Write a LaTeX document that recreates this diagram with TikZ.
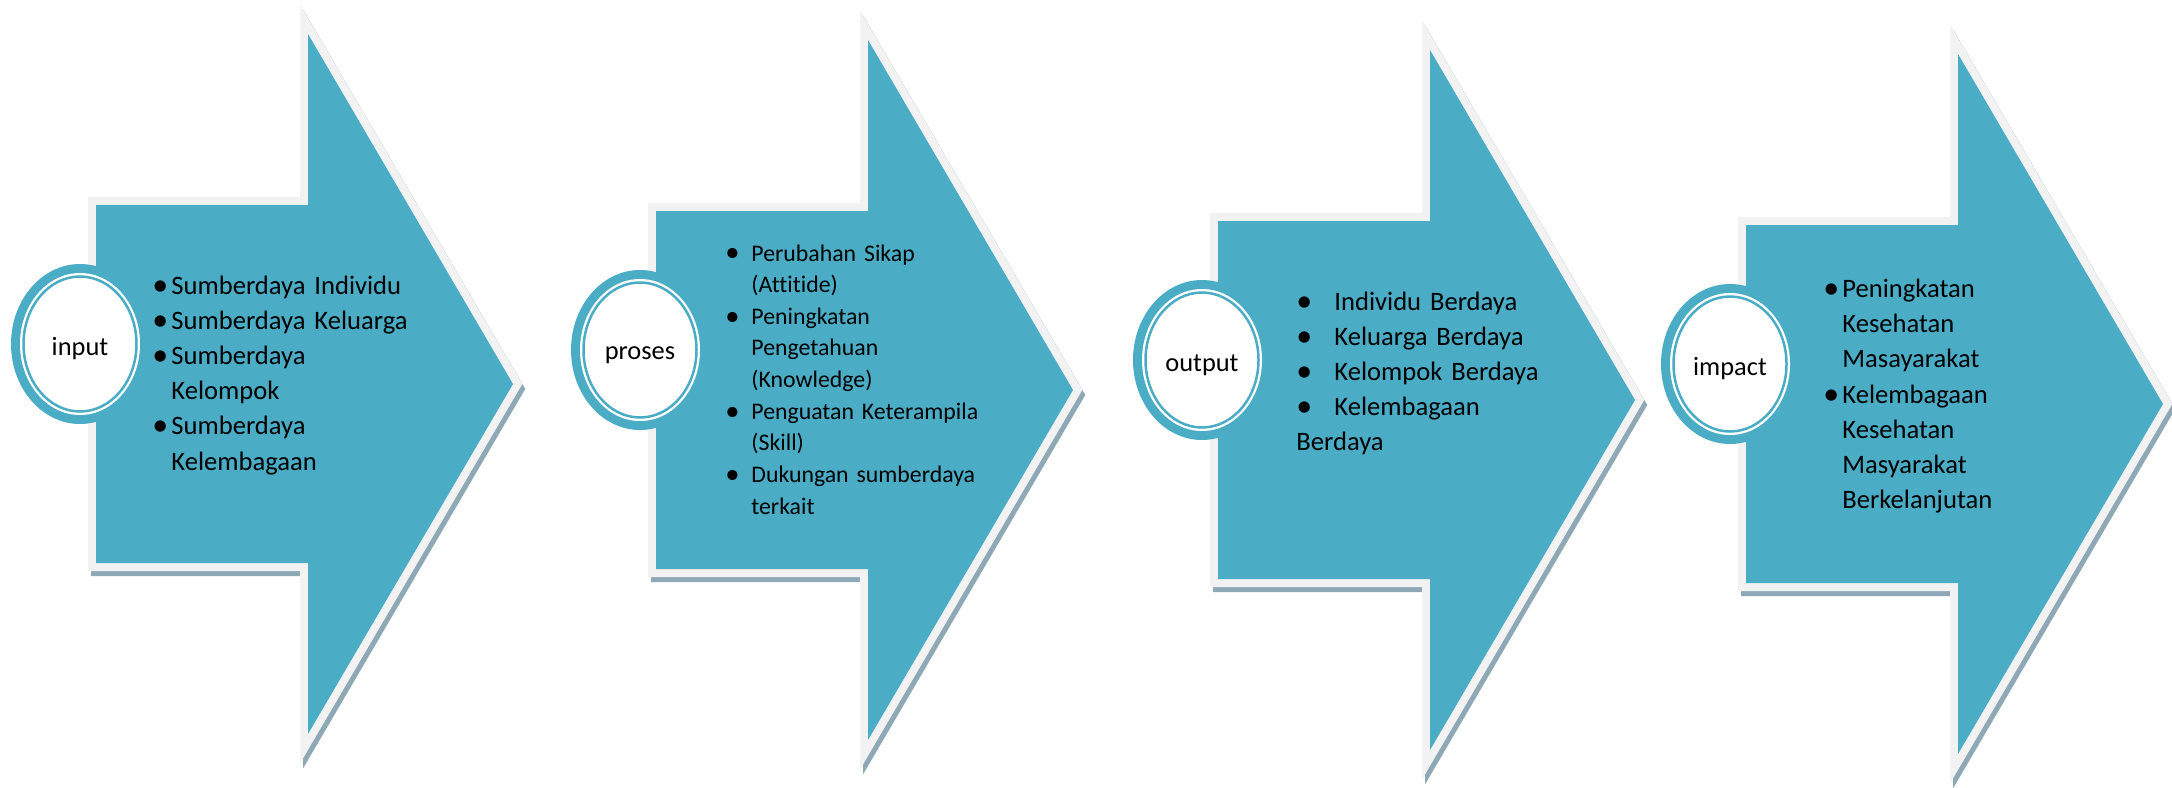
\documentclass[tikz,border=0pt]{standalone}
\usepackage{fontspec}
\setmainfont{Carlito}[Ligatures={TeX,NoCommon}]
\usepackage{graphicx}
\usepackage{tikz}
\usepackage{xcolor}

\definecolor{aqua}{HTML}{4BACC6}
\definecolor{rimgrey}{HTML}{F2F2F2}
\definecolor{shadowblue}{HTML}{8EA9B5}

% bullet with a fixed gap before the item text
\newlength{\bulw}
\newcommand{\itm}{\makebox[\bulw][l]{\raisebox{-0.04em}{\scalebox{1.2}{\textbullet}}}}
% chevron outline, origin at the left end of the shaft, on its axis
\newcommand{\chevron}{(0,-179) -- (212,-179) -- (212,-350) -- (417,0) -- (212,350) -- (212,179) -- (0,179) -- cycle}

\tikzset{
  backing/.style={draw=shadowblue, fill=shadowblue, line width=8pt, shift={(3,5)}},
  rim/.style={draw=rimgrey, fill=rimgrey, line width=8pt},
  body/.style={fill=aqua},
  ring/.style={draw=aqua, line width=1.25pt},
  tag/.style={inner sep=0pt, font=\fontsize{13.2pt}{16pt}\selectfont},
  bullets/.style={anchor=base west, inner sep=0pt, text width=220pt, align=left,
    font=\fontsize{13.3pt}{17.6pt}\selectfont,
    execute at begin node={\setlength{\bulw}{#1}}},
}

\begin{document}
\begin{tikzpicture}[x=0.5pt, y=-0.5pt]
  \useasboundingbox (0,0) rectangle (2172,787);

  % input
  \begin{scope}[shift={(96,384)}]
    \draw[backing] \chevron;
    \draw[rim] \chevron;
    \fill[body] \chevron;
    \fill[aqua] (-16,-40) ellipse [x radius=69, y radius=80];
    \fill[white] (-16,-40) ellipse [x radius=60, y radius=71];
    \draw[ring] (-16,-40) ellipse [x radius=56.5, y radius=67.5];
    \node[tag] (input) at (-16,-35) {input};
    \node[bullets=9.5pt] (inputlist) at (56,-90) {\itm Sumberdaya Individu\\
      \itm Sumberdaya Keluarga\\
      \itm Sumberdaya\\
      \hspace*{\bulw}Kelompok\\
      \itm Sumberdaya\\
      \hspace*{\bulw}Kelembagaan};
  \end{scope}

  % proses
  \begin{scope}[shift={(656,390)}]
    \draw[backing] \chevron;
    \draw[rim] \chevron;
    \fill[body] \chevron;
    \fill[aqua] (-16,-40) ellipse [x radius=69, y radius=80];
    \fill[white] (-16,-40) ellipse [x radius=60, y radius=71];
    \draw[ring] (-16,-40) ellipse [x radius=56.5, y radius=67.5];
    \node[tag] (proses) at (-16,-35) {proses};
    \node[bullets=13pt, font=\fontsize{11.9pt}{15.83pt}\selectfont] (proseslist) at (69,-129) {\itm Perubahan Sikap\\
      \hspace*{\bulw}(Attitide)\\
      \itm Peningkatan\\
      \hspace*{\bulw}Pengetahuan\\
      \hspace*{\bulw}(Knowledge)\\
      \itm Penguatan Keterampila\\
      \hspace*{\bulw}(Skill)\\
      \itm Dukungan sumberdaya\\
      \hspace*{\bulw}terkait};
  \end{scope}

  % output
  \begin{scope}[shift={(1218,400)}]
    \draw[backing] \chevron;
    \draw[rim] \chevron;
    \fill[body] \chevron;
    \fill[aqua] (-16,-40) ellipse [x radius=69, y radius=80];
    \fill[white] (-16,-40) ellipse [x radius=60, y radius=71];
    \draw[ring] (-16,-40) ellipse [x radius=56.5, y radius=67.5];
    \node[tag] (output) at (-16,-35) {output};
    \node[bullets=19pt] (outputlist) at (78,-90) {\itm Individu Berdaya\\
      \itm Keluarga Berdaya\\
      \itm Kelompok Berdaya\\
      \itm Kelembagaan\\
      Berdaya};
  \end{scope}

  % impact
  \begin{scope}[shift={(1746,404)}]
    \draw[backing] \chevron;
    \draw[rim] \chevron;
    \fill[body] \chevron;
    \fill[aqua] (-16,-40) ellipse [x radius=69, y radius=80];
    \fill[white] (-16,-40) ellipse [x radius=60, y radius=71];
    \draw[ring] (-16,-40) ellipse [x radius=56.5, y radius=67.5];
    \node[tag] (impact) at (-16,-35) {impact};
    \node[bullets=9.5pt] (impactlist) at (77,-106.5) {\itm Peningkatan\\
      \hspace*{\bulw}Kesehatan\\
      \hspace*{\bulw}Masayarakat\\
      \itm Kelembagaan\\
      \hspace*{\bulw}Kesehatan\\
      \hspace*{\bulw}Masyarakat\\
      \hspace*{\bulw}Berkelanjutan};
  \end{scope}
\end{tikzpicture}
\end{document}
